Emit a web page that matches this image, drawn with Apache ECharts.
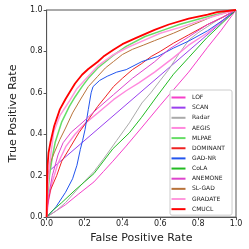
<!DOCTYPE html>
<html><head><meta charset="utf-8">
<script src="https://cdn.jsdelivr.net/npm/echarts@6/dist/echarts.min.js"></script>
<style>html,body{margin:0;padding:0;background:#fff}#c{width:249px;height:249px}</style>
</head><body><div id="c"></div>
<script>
const methods = ['LOF','SCAN','Radar','AEGIS','MLPAE','DOMINANT','GAD-NR','CoLA','ANEMONE','SL-GAD','GRADATE','CMUCL'];
const xTicks = [0, 0.2, 0.4, 0.6, 0.8, 1.0];
const LOF = [[0,0],[0.05,0.03],[0.1,0.06],[0.167,0.11],[0.25,0.17],[0.3,0.22],[0.35,0.27],[0.42,0.343],[0.5,0.43],[0.6,0.54],[0.67,0.615],[0.75,0.7],[0.85,0.82],[0.92,0.9],[1,1]];
const SCAN = [[0,0],[0.01,0.22],[1,1]];
const Radar = [[0,0],[0.05,0.03],[0.1,0.07],[0.187,0.16],[0.25,0.22],[0.3,0.28],[0.37,0.37],[0.437,0.455],[0.503,0.551],[0.55,0.6],[0.6,0.66],[0.645,0.713],[0.7,0.79],[0.753,0.857],[0.8,0.89],[0.9,0.95],[1,1]];
const AEGIS = [[0,0],[0.01,0.08],[0.03,0.17],[0.06,0.26],[0.103,0.343],[0.15,0.4],[0.2,0.45],[0.27,0.503],[0.353,0.567],[0.42,0.61],[0.487,0.648],[0.57,0.7],[0.67,0.77],[0.75,0.83],[0.85,0.89],[0.93,0.95],[1,1]];
const MLPAE = [[0,0],[0.005,0.1],[0.015,0.2],[0.03,0.29],[0.045,0.36],[0.08,0.46],[0.12,0.535],[0.15,0.58],[0.187,0.63],[0.22,0.67],[0.27,0.72],[0.35,0.78],[0.42,0.824],[0.52,0.872],[0.62,0.904],[0.7,0.93],[0.8,0.955],[0.9,0.98],[1,1]];
const DOMINANT = [[0,0],[0.005,0.06],[0.02,0.13],[0.053,0.2],[0.08,0.27],[0.12,0.33],[0.17,0.407],[0.22,0.47],[0.27,0.535],[0.31,0.58],[0.353,0.63],[0.4,0.67],[0.453,0.712],[0.5,0.74],[0.553,0.776],[0.6,0.8],[0.67,0.84],[0.75,0.88],[0.85,0.93],[0.93,0.965],[1,1]];
const GADNR = [[0,0],[0.05,0.05],[0.1,0.12],[0.137,0.185],[0.16,0.25],[0.178,0.327],[0.19,0.37],[0.203,0.423],[0.22,0.519],[0.235,0.6],[0.245,0.63],[0.28,0.66],[0.32,0.68],[0.37,0.7],[0.42,0.712],[0.503,0.751],[0.587,0.776],[0.67,0.816],[0.75,0.85],[0.85,0.9],[0.93,0.95],[1,1]];
const CoLA = [[0,0],[0.03,0.03],[0.08,0.07],[0.15,0.13],[0.2,0.17],[0.25,0.21],[0.35,0.33],[0.437,0.407],[0.5,0.48],[0.58,0.58],[0.67,0.69],[0.75,0.77],[0.845,0.865],[0.92,0.93],[1,1]];
const ANEMONE = [[0,0],[0.01,0.1],[0.03,0.2],[0.06,0.3],[0.087,0.359],[0.13,0.41],[0.187,0.455],[0.27,0.525],[0.353,0.591],[0.453,0.67],[0.57,0.75],[0.645,0.81],[0.75,0.87],[0.85,0.93],[0.93,0.965],[1,1]];
const SLGAD = [[0,0],[0.004,0.12],[0.01,0.2],[0.02,0.263],[0.04,0.31],[0.07,0.375],[0.1,0.43],[0.137,0.503],[0.18,0.57],[0.22,0.63],[0.27,0.68],[0.31,0.72],[0.353,0.751],[0.4,0.785],[0.453,0.81],[0.51,0.83],[0.57,0.852],[0.67,0.888],[0.75,0.92],[0.88,0.97],[1,1]];
const GRADATE = [[0,0],[0.005,0.13],[0.015,0.25],[0.037,0.41],[0.07,0.49],[0.12,0.56],[0.16,0.62],[0.203,0.663],[0.27,0.73],[0.353,0.784],[0.43,0.82],[0.52,0.856],[0.6,0.888],[0.7,0.915],[0.8,0.945],[0.9,0.975],[1,1]];
const CMUCL = [[0,0],[0.002,0.15],[0.005,0.25],[0.01,0.31],[0.02,0.36],[0.04,0.44],[0.07,0.52],[0.1,0.57],[0.12,0.6],[0.15,0.645],[0.187,0.6875],[0.22,0.715],[0.27,0.75],[0.3,0.775],[0.353,0.808],[0.4,0.835],[0.47,0.864],[0.57,0.904],[0.645,0.93],[0.75,0.958],[0.85,0.978],[0.9,0.99],[1,1]];
const seriesData = [LOF,SCAN,Radar,AEGIS,MLPAE,DOMINANT,GADNR,CoLA,ANEMONE,SLGAD,GRADATE,CMUCL];
const colors = ['#f53fc9','#9940ee','#aaaaaa','#ff88dd','#66dd66','#ee2222','#2255ee','#22bb22','#dd44cc','#b8733a','#ff99dd','#ff0000'];
const widths = [1,1,1,1.4,1.5,1,1,1,1,1,1.5,1.8];
const font = 'DejaVu Sans';
const chart = echarts.init(document.getElementById('c'), null, {renderer:'canvas'});
chart.setOption({
  animation:false,
  backgroundColor:'#fff',
  grid:{left:36,right:13,top:10,bottom:31,show:true,borderColor:'#555',borderWidth:1},
  legend:{
    orient:'vertical', left:170, top:90,
    data: methods.map((m,i)=>({name:m, icon:'rect'})),
    itemWidth:14, itemHeight:2, itemGap:2.15,
    padding:[3.5,7,2,1.5],
    backgroundColor:'#fff', borderColor:'#ccc', borderWidth:1, borderRadius:2,
    textStyle:{fontFamily:font,fontSize:6,color:'#222',lineHeight:8,padding:[0,0,0,1.5]}
  },
  xAxis:{type:'value',min:0,max:1,interval:0.2,
    name:'False Positive Rate',nameLocation:'middle',nameGap:12,
    nameTextStyle:{fontFamily:font,fontSize:11,color:'#222'},
    axisLine:{show:true,onZero:false,lineStyle:{color:'#555'}},
    axisTick:{show:true,inside:false,length:3,lineStyle:{color:'#555'}},
    axisLabel:{fontFamily:font,fontSize:8,color:'#222',margin:3,formatter:v=>v.toFixed(1)},
    splitLine:{show:false}},
  yAxis:{type:'value',min:0,max:1,interval:0.2,
    name:'True Positive Rate',nameLocation:'middle',nameGap:21,
    nameTextStyle:{fontFamily:font,fontSize:11,color:'#222'},
    axisLine:{show:true,onZero:false,lineStyle:{color:'#555'}},
    axisTick:{show:true,inside:false,length:3,lineStyle:{color:'#555'}},
    axisLabel:{fontFamily:font,fontSize:8,color:'#222',margin:4,formatter:v=>v.toFixed(1)},
    splitLine:{show:false}},
  series: methods.map((m,i)=>({
    name:m,type:'line',data:seriesData[i],showSymbol:false,symbol:'none',
    color:colors[i],lineStyle:{color:colors[i],width:widths[i]},z:2+i
  }))
});
</script></body></html>
